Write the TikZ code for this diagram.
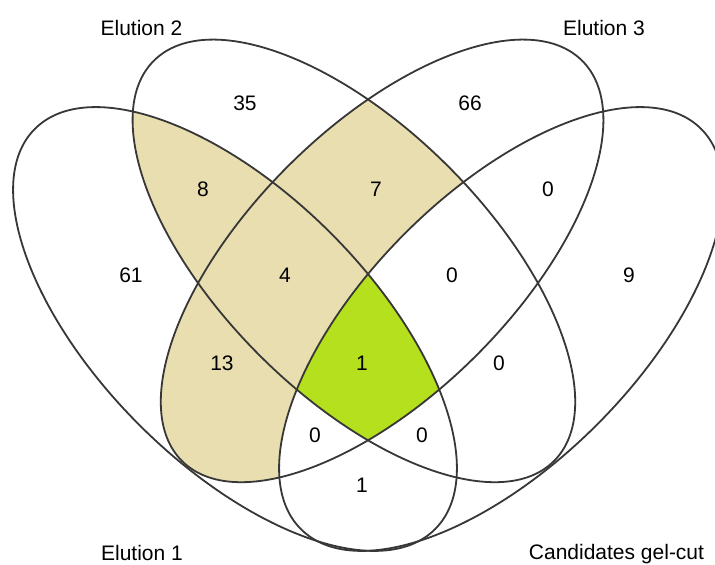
\documentclass[tikz,border=0pt]{standalone}
\usepackage{fontspec}
\setmainfont{Liberation Sans}
\definecolor{tanfill}{RGB}{233,222,175}
\definecolor{greenfill}{RGB}{180,224,30}
\definecolor{edgegray}{RGB}{55,55,55}
\begin{document}
\begin{tikzpicture}[x=1pt,y=1pt]
\tikzset{
  rotA/.style={rotate around={-45:(235,236)}},
  rotB/.style={rotate around={-45:(353.9,304.1)}},
  rotC/.style={rotate around={45:(382.1,304.1)}},
  rotD/.style={rotate around={45:(501,236)}},
  outline/.style={draw=edgegray, line width=1.8pt},
  num/.style={font=\fontsize{21}{25}\selectfont, text=black, inner sep=0pt},
  setlabel/.style={font=\fontsize{21}{25}\selectfont, text=black, inner sep=0pt, anchor=base},
}
\useasboundingbox (0,0) rectangle (715,565);
\fill[white] (0,0) rectangle (715,565);
% pairwise overlaps of Elution 1, 2, 3
\begin{scope}
  \clip[rotA] (235,236) ellipse [x radius=283, y radius=135.5];
  \fill[tanfill, rotB] (353.9,304.1) ellipse [x radius=283, y radius=133.5];
  \fill[tanfill, rotC] (382.1,304.1) ellipse [x radius=283, y radius=133.5];
\end{scope}
\begin{scope}
  \clip[rotB] (353.9,304.1) ellipse [x radius=283, y radius=133.5];
  \fill[tanfill, rotC] (382.1,304.1) ellipse [x radius=283, y radius=133.5];
\end{scope}
% candidates set is white except the common core
\fill[white, rotD] (501,236) ellipse [x radius=283, y radius=135.5];
\begin{scope}
  \clip[rotA] (235,236) ellipse [x radius=283, y radius=135.5];
  \clip[rotB] (353.9,304.1) ellipse [x radius=283, y radius=133.5];
  \clip[rotC] (382.1,304.1) ellipse [x radius=283, y radius=133.5];
  \fill[greenfill, rotD] (501,236) ellipse [x radius=283, y radius=135.5];
\end{scope}
% outlines
\draw[outline, rotA] (235,236) ellipse [x radius=283, y radius=135.5];
\draw[outline, rotB] (353.9,304.1) ellipse [x radius=283, y radius=133.5];
\draw[outline, rotC] (382.1,304.1) ellipse [x radius=283, y radius=133.5];
\draw[outline, rotD] (501,236) ellipse [x radius=283, y radius=135.5];
% set labels
\node[setlabel] (l2) at (141.5,529.3) {Elution 2};
\node[setlabel] (l3) at (604,529.3) {Elution 3};
\node[setlabel] (l1) at (142,4) {Elution 1};
\node[setlabel] (l4) at (616.5,5.5) {Candidates gel-cut};
% counts
\node[num] (n35) at (245,462) {35};
\node[num] (n66) at (470,462) {66};
\node[num] (n8) at (203,376) {8};
\node[num] (n7) at (376,376) {7};
\node[num] (n0a) at (548,376) {0};
\node[num] (n61) at (131,290) {61};
\node[num] (n4) at (285,290) {4};
\node[num] (n0b) at (452,290) {0};
\node[num] (n9) at (629,290) {9};
\node[num] (n13) at (222,202) {13};
\node[num] (n1a) at (362,202) {1};
\node[num] (n0c) at (499,202) {0};
\node[num] (n0d) at (315,130) {0};
\node[num] (n0e) at (422,130) {0};
\node[num] (n1b) at (362,80) {1};
\end{tikzpicture}
\end{document}
